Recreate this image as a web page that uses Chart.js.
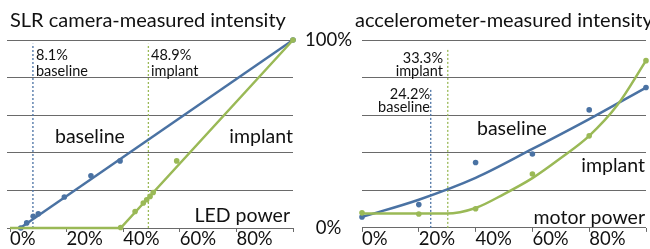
<!DOCTYPE html>
<html>
<head>
<meta charset="utf-8">
<script src="https://cdn.jsdelivr.net/npm/chart.js@4"></script>
<style>
  body { margin: 0; background: #fff; }
  #wrap { position: relative; width: 650px; height: 249px; overflow: hidden; }
  canvas { position: absolute; top: 0; }
  #slr { left: 0; }
  #acc { left: 300px; }
</style>
</head>
<body>
<div id="wrap">
  <canvas id="slr" width="300" height="249"></canvas>
  <canvas id="acc" width="350" height="249"></canvas>
</div>
<script>
// axis ticks (percent of max)
var xTicks = [0, 20, 40, 60, 80, 100];
var xTickText = ['0%', '20%', '40%', '60%', '80%', ''];
var yTicks = [0, 20, 40, 60, 80, 100];
var yTickText = ['0%', '', '', '', '', '100%'];

// SLR camera-measured intensity vs LED power
var slrBaseX = [3.8, 5.9, 8.2, 10.0, 19.2, 28.6, 38.9, 100];
var slrBaseY = [0, 2.7, 6.2, 7.6, 16.5, 27.8, 35.7, 100];
var slrBaseFitX = [3.6, 100];
var slrBaseFitY = [0, 100];
var slrImplX = [39.1, 44.2, 47.1, 48.3, 49.5, 50.6, 58.9, 100];
var slrImplY = [0.3, 8.8, 13.3, 15.0, 16.8, 18.9, 35.7, 100];
var slrImplFitX = [0, 39.1, 100];
var slrImplFitY = [0, 0, 100];
var slrBaseMark = 8.1;
var slrImplMark = 48.9;
var slrMarkTop = [98, 98];

// accelerometer-measured intensity vs motor power
var accX = [0, 20, 40, 60, 80, 100];
var accBaseY = [5.8, 12.4, 34.8, 39.3, 62.8, 74.7];
var accImplY = [8.0, 7.4, 10.2, 28.7, 49.0, 89.0];
var accBaseFitX = [0, 20, 40, 60, 80, 100];
var accBaseFitY = [5.8, 15.0, 26.6, 42.0, 57.9, 74.7];
var accImplFitX = [0, 20, 29.7, 40, 50, 60, 70, 80, 90, 100];
var accImplFitY = [7.6, 7.6, 7.6, 10.6, 18.0, 26.5, 37.2, 49.0, 65.5, 89.0];
var accBaseMark = 24.2;
var accImplMark = 30.2;
var accMarkTop = [74.5, 95.7];

var BLUE = '#4a72a3';
var GREEN = '#9ab956';
var GRID = '#6a6a6a';
var FONT = 'Lato';

function pts(xs, ys) {
    return xs.map(function (x, i) { return { x: x, y: ys[i] }; });
}

function dots(xs, ys, color) {
    return {
        data: pts(xs, ys), showLine: false, clip: false,
        pointRadius: 2.8, pointBackgroundColor: color, pointBorderWidth: 0
    };
}

function fit(xs, ys, color, smooth) {
    var d = {
        data: pts(xs, ys), showLine: true, clip: false, pointRadius: 0,
        borderColor: color, borderWidth: 2.5, tension: 0
    };
    if (smooth) d.cubicInterpolationMode = 'monotone';
    return d;
}

function marker(x, top, color) {
    return {
        data: [{ x: x, y: 0 }, { x: x, y: top }], showLine: true, pointRadius: 0,
        borderColor: color, borderWidth: 1.3, borderDash: [2, 2]
    };
}

// draws titles and in-plot labels as canvas text
var textPlugin = {
    id: 'texts',
    afterDraw: function (chart, args, opts) {
        var ctx = chart.ctx;
        ctx.save();
        ctx.fillStyle = '#111';
        ctx.textBaseline = 'alphabetic';
        opts.items.forEach(function (t) {
            ctx.font = t[4] + 'px ' + FONT;
            ctx.textAlign = t[3];
            ctx.fillText(t[0], t[1], t[2]);
        });
        ctx.restore();
    }
};

function crearGrafico(canvas, datasets, showY, pad, items) {
    return new Chart(canvas, {
        type: 'scatter',
        data: { datasets: datasets },
        plugins: [textPlugin],
        options: {
            responsive: false,
            animation: false,
            layout: { padding: pad },
            plugins: { legend: { display: false }, tooltip: { enabled: false }, texts: { items: items } },
            scales: {
                x: {
                    type: 'linear', min: 0, max: 100,
                    afterBuildTicks: function (s) { s.ticks = xTicks.map(function (v) { return { value: v }; }); },
                    afterFit: function (s) { s.height = 21; },
                    border: { display: false },
                    grid: { drawOnChartArea: false, tickLength: 4, color: GRID },
                    ticks: {
                        align: 'start', padding: -4, color: '#111',
                        font: { family: FONT, size: 18.5 },
                        callback: function (v) { return xTickText[xTicks.indexOf(v)]; }
                    }
                },
                y: {
                    type: 'linear', min: 0, max: 100,
                    afterBuildTicks: function (s) { s.ticks = yTicks.map(function (v) { return { value: v }; }); },
                    afterFit: function (s) { s.width = showY ? 62 : 10; },
                    border: { display: false },
                    grid: { color: GRID, drawTicks: !showY, tickLength: 3 },
                    ticks: {
                        display: showY, padding: 10, crossAlign: 'center', color: '#111',
                        font: { family: FONT, size: 18.5 },
                        callback: function (v) { return yTickText[yTicks.indexOf(v)]; }
                    }
                }
            }
        }
    });
}

crearGrafico(document.getElementById('slr'), [
    dots(slrImplX, slrImplY, GREEN),
    fit(slrImplFitX, slrImplFitY, GREEN, false),
    dots(slrBaseX, slrBaseY, BLUE),
    fit(slrBaseFitX, slrBaseFitY, BLUE, false),
    marker(slrBaseMark, slrMarkTop[0], BLUE),
    marker(slrImplMark, slrMarkTop[1], GREEN)
], false, { left: 0, right: 7, top: 40, bottom: 0 }, [
    ['SLR camera-measured intensity', 10, 27, 'left', 20],
    ['8.1%', 36, 60, 'left', 14.5],
    ['baseline', 36, 76, 'left', 14.5],
    ['48.9%', 151, 60, 'left', 14.5],
    ['implant', 151, 76, 'left', 14.5],
    ['baseline', 55, 143, 'left', 19.5],
    ['implant', 293, 143, 'right', 19.5],
    ['LED power', 290, 222, 'right', 19.5]
]);

crearGrafico(document.getElementById('acc'), [
    dots(accX, accImplY, GREEN),
    fit(accImplFitX, accImplFitY, GREEN, true),
    dots(accX, accBaseY, BLUE),
    fit(accBaseFitX, accBaseFitY, BLUE, true),
    marker(accBaseMark, accMarkTop[0], BLUE),
    marker(accImplMark, accMarkTop[1], GREEN)
], true, { left: 0, right: 2, top: 40, bottom: 0 }, [
    ['accelerometer-measured intensity', 55, 27, 'left', 20],
    ['33.3%', 143, 63, 'right', 14.5],
    ['implant', 143, 75.5, 'right', 14.5],
    ['24.2%', 130, 99, 'right', 14.5],
    ['baseline', 130, 111.5, 'right', 14.5],
    ['baseline', 177, 135, 'left', 19.5],
    ['implant', 345, 172, 'right', 19.5],
    ['motor power', 345, 224, 'right', 19.5]
]);
</script>
</body>
</html>
